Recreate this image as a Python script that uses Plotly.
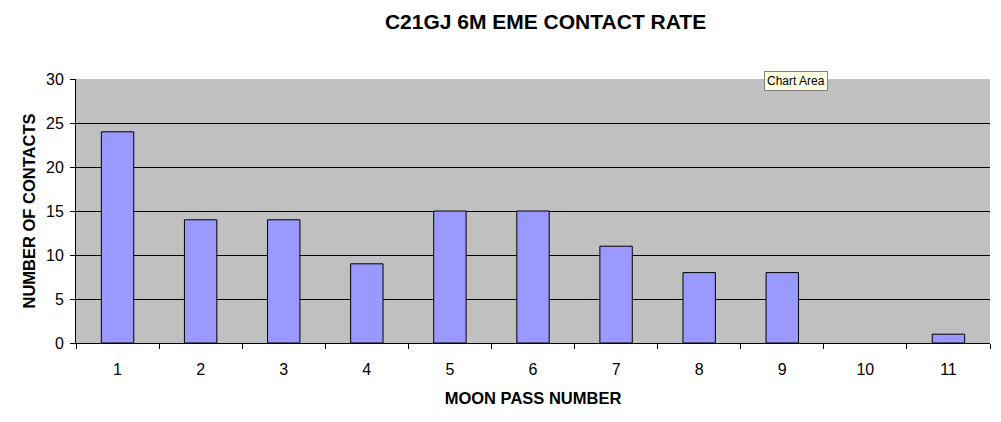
import plotly.graph_objects as go

passes = ['1', '2', '3', '4', '5', '6', '7', '8', '9', '10', '11']
contacts = [24, 14, 14, 9, 15, 15, 11, 8, 8, 0, 1]

# no outline on empty bars (Excel draws nothing there)
outline = [1 if v > 0 else 0 for v in contacts]

fig = go.Figure(go.Bar(
    x=passes, y=contacts,
    marker=dict(color='#9999FF', line=dict(color='black', width=outline)),
))

# the page body adds an 8px offset, margins compensate for it
fig.update_layout(
    width=1001, height=422,
    margin=dict(l=68, r=19, t=71, b=87, autoexpand=False),
    paper_bgcolor='white', plot_bgcolor='#C0C0C0',
    font=dict(family='Arial, Liberation Sans', color='black', size=16),
    bargap=0.61,
    showlegend=False,
    title=dict(text='<b>C21GJ 6M EME CONTACT RATE</b>', x=0.537, xanchor='center',
               y=1 - 14 / 422, yanchor='middle', font=dict(size=21)),
    xaxis=dict(title=dict(text='<b>MOON PASS NUMBER</b>', font=dict(size=16.5), standoff=15),
               automargin=False,
               showline=True, linecolor='black', linewidth=1,
               ticks='outside', tickson='boundaries', ticklen=5, tickcolor='black',
               ticklabelstandoff=12, tickfont=dict(size=16), showgrid=False),
    yaxis=dict(title=dict(text='<b>NUMBER OF CONTACTS</b>', font=dict(size=16.5), standoff=6),
               automargin=False,
               range=[0, 30], dtick=5, showline=True, linecolor='black', linewidth=1,
               ticks='outside', ticklen=5, tickcolor='black', tickfont=dict(size=16),
               ticklabelstandoff=3,
               showgrid=True, gridcolor='black', gridwidth=1, zeroline=False),
)

fig.add_annotation(text='Chart Area', xref='paper', yref='paper',
                   x=(756 - 68) / 914, y=1 - 2 / 264, xanchor='left', yanchor='middle',
                   showarrow=False, bgcolor='#FFFFE1', bordercolor='#808080', borderwidth=1,
                   borderpad=2, font=dict(family='Arial, Liberation Sans', size=12))

fig.write_html('out.html')
